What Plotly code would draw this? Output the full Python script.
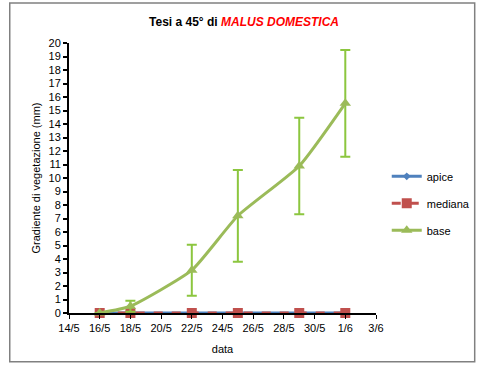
import plotly.graph_objects as go

# Data
dates = ["2012-05-16", "2012-05-18", "2012-05-22", "2012-05-25", "2012-05-29", "2012-06-01"]
apice = [0, 0, 0, 0, 0, 0]
mediana = [0, 0, 0, 0, 0, 0]
base = [0.0, 0.5, 3.17, 7.2, 10.89, 15.53]
base_err = [0.0, 0.4, 1.89, 3.4, 3.58, 3.95]

tick_dates = ["2012-05-14", "2012-05-16", "2012-05-18", "2012-05-20", "2012-05-22", "2012-05-24",
              "2012-05-26", "2012-05-28", "2012-05-30", "2012-06-01", "2012-06-03"]
tick_labels = ["14/5", "16/5", "18/5", "20/5", "22/5", "24/5", "26/5", "28/5", "30/5", "1/6", "3/6"]
y_ticks = list(range(0, 21))

FONT = "Liberation Sans, Arial, sans-serif"

fig = go.Figure()
fig.add_trace(go.Scatter(
    x=dates, y=apice, name="apice", mode="lines+markers",
    line=dict(color="#4F81BD", width=3),
    marker=dict(symbol="diamond", size=6, color="#4F81BD"),
    cliponaxis=False, legendgroup="a"))
fig.add_trace(go.Scatter(
    x=dates, y=mediana, name="mediana", mode="lines+markers",
    line=dict(color="#C0504D", width=3, dash="dash"),
    marker=dict(symbol="square", size=10, color="#C0504D"),
    cliponaxis=False, legendgroup="m"))
fig.add_trace(go.Scatter(
    x=dates, y=base, name="base", mode="lines+markers",
    line=dict(color="#9BBB59", width=3, shape="spline", smoothing=0.5),
    marker=dict(symbol="triangle-up", size=10, color="#9BBB59"),
    error_y=dict(type="data", array=base_err, visible=True, color="#8CC63F", thickness=2, width=5),
    cliponaxis=False, legendgroup="b"))

fig.update_layout(
    width=488, height=371,
    margin=dict(l=69, r=108, t=43, b=58),
    paper_bgcolor="white", plot_bgcolor="white",
    font=dict(family=FONT, size=11, color="black"),
    title=dict(
        text="<b>Tesi a 45° di <i><span style='color:#FF0000'>MALUS DOMESTICA</span></i></b>",
        x=0.5, xanchor="center", y=0.94, yanchor="middle",
        font=dict(family=FONT, size=12, color="black")),
    showlegend=True,
    legend=dict(x=1.035, y=0.56, xanchor="left", yanchor="top",
                font=dict(family=FONT, size=11), tracegroupgap=8,
                bgcolor="rgba(0,0,0,0)"),
    xaxis=dict(
        type="date", range=["2012-05-14", "2012-06-03"],
        tickvals=tick_dates, ticktext=tick_labels,
        showgrid=False, zeroline=False,
        showline=True, linecolor="black", linewidth=2,
        ticks="outside", ticklen=4, tickwidth=1, tickcolor="black",
        title=dict(text="data", font=dict(size=11), standoff=12)),
    yaxis=dict(
        range=[0, 20], tickvals=y_ticks,
        showgrid=False, zeroline=False,
        showline=True, linecolor="black", linewidth=2,
        ticks="outside", ticklen=4, tickwidth=2, tickcolor="black",
        title=dict(text="Gradiente di vegetazione (mm)", font=dict(size=11), standoff=6)),
    shapes=[dict(type="rect", xref="paper", yref="paper",
                 x0=-0.193, x1=1.3215, y0=-0.181, y1=1.148,
                 line=dict(color="#808080", width=1.5), fillcolor="rgba(0,0,0,0)")],
)

fig.write_html("out.html", config={"displayModeBar": False},
               post_script="document.body.style.margin='0';")
